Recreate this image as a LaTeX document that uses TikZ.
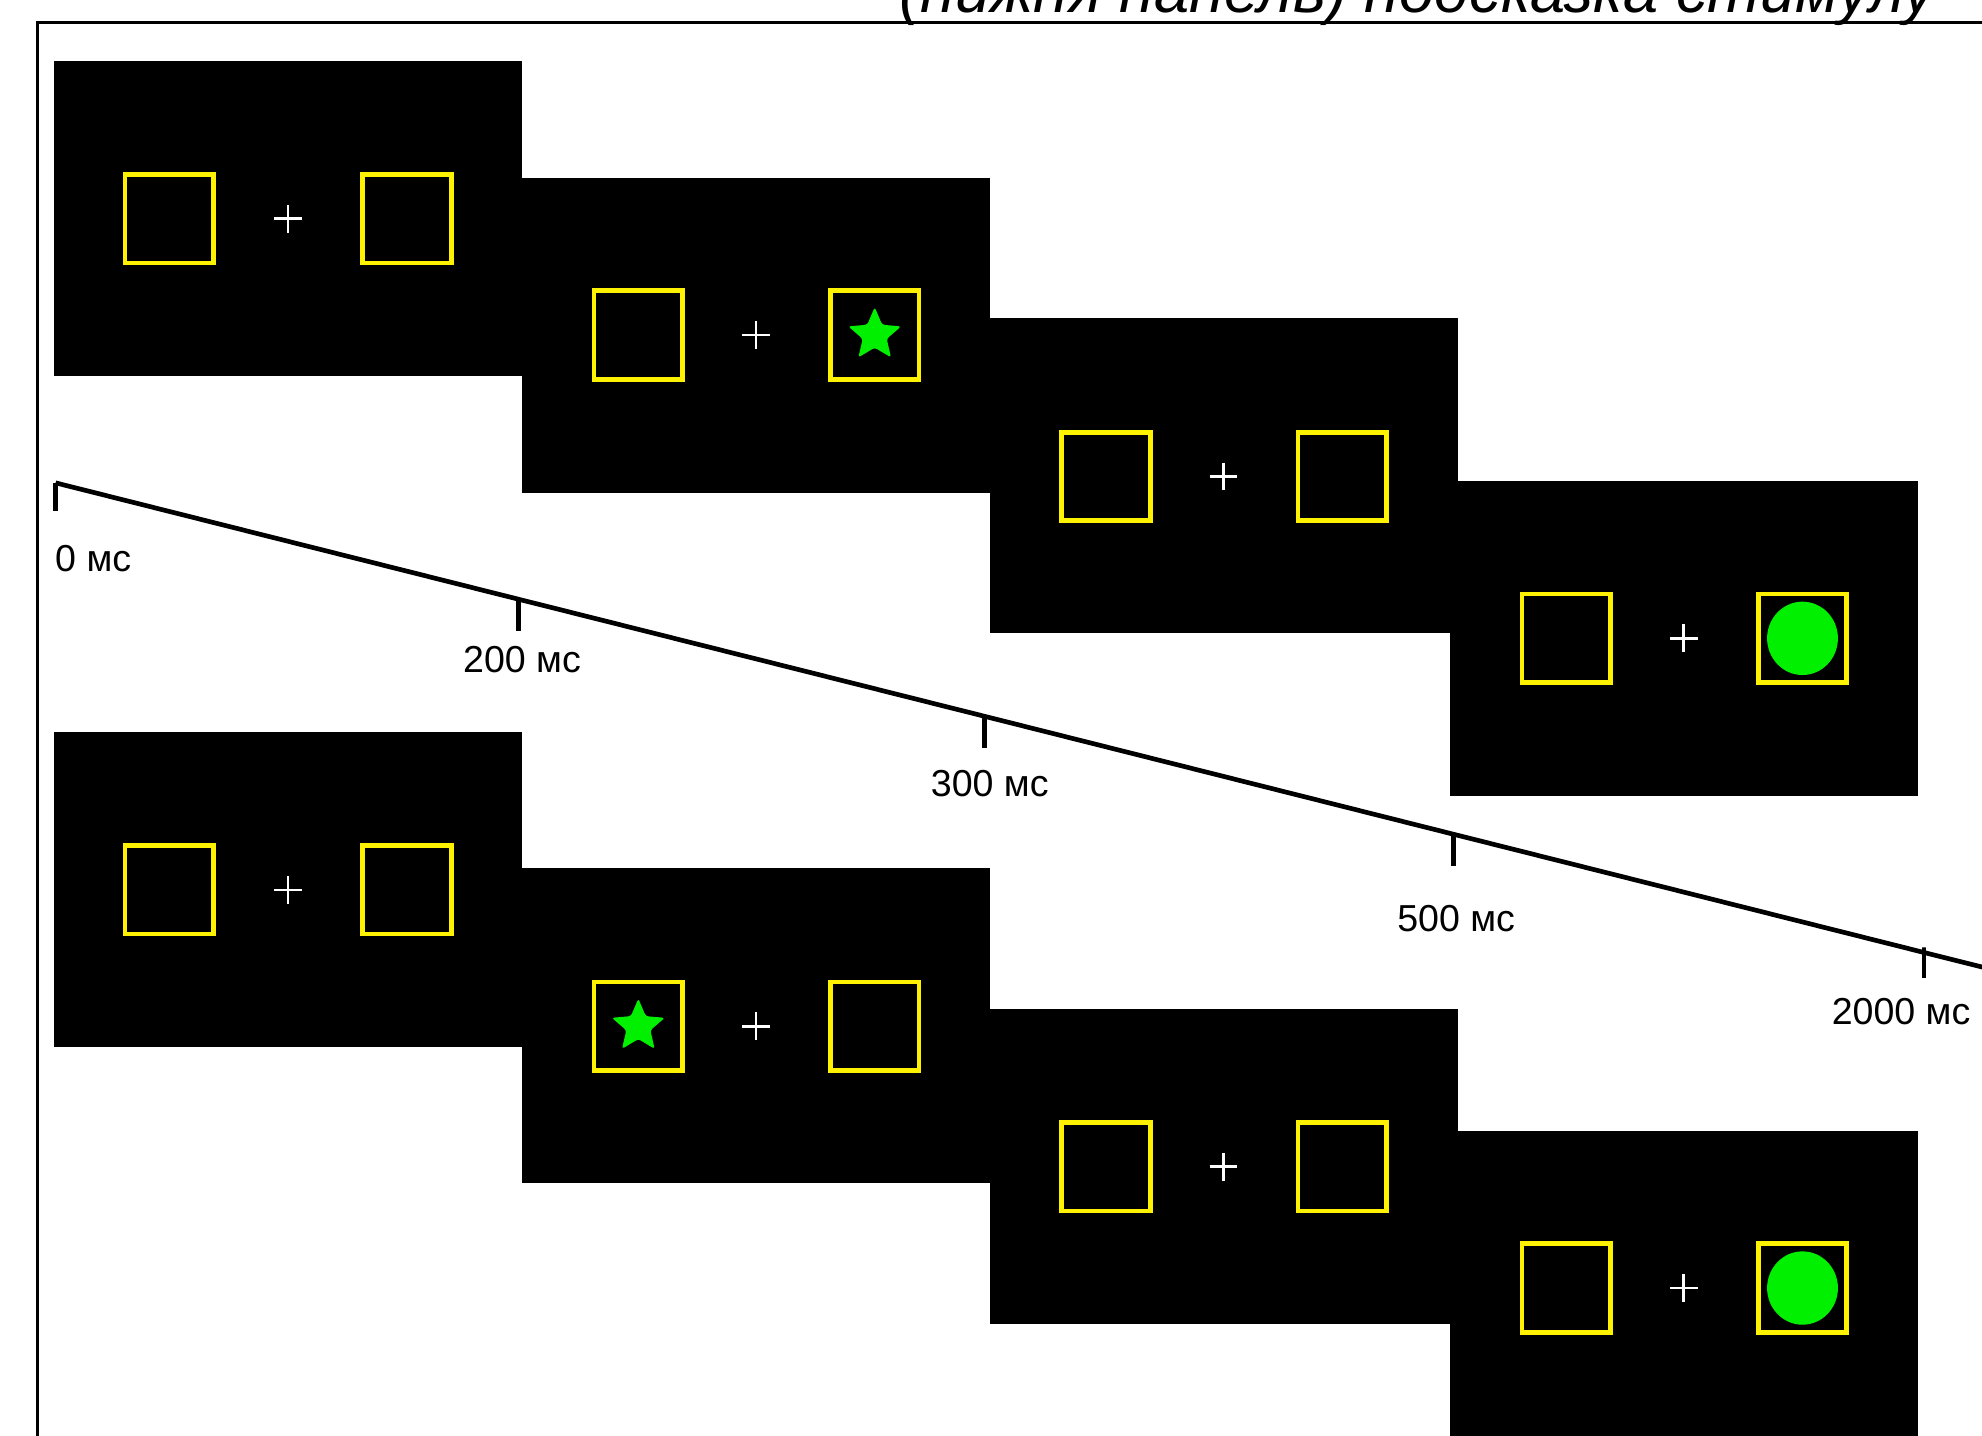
\documentclass[tikz,border=0pt]{standalone}
\usepackage{fontspec}
\setmainfont{Liberation Sans}
\usetikzlibrary{shapes.geometric}
\definecolor{cueyellow}{RGB}{255,242,0}
\definecolor{targetgreen}{RGB}{0,240,0}
\tikzset{
	panel/.style={fill=black, draw=none, minimum width=3.7cm, minimum height=2.49cm, inner sep=0pt},
	cue/.style={draw=cueyellow, line width=1.05pt, minimum size=0.7cm, inner sep=0pt},
	fixcross/.style={draw=white, line width=0.55pt},
	starget/.style={star, star points=5, star point ratio=2.2, minimum size=0.44cm, inner sep=0pt, fill=targetgreen, rounded corners=0.6pt},
	ctarget/.style={ellipse, minimum width=0.56cm, minimum height=0.58cm, inner sep=0pt, fill=targetgreen},
	timelbl/.style={font=\fontsize{8.45}{10}\selectfont, inner sep=0pt},
	tline/.style={line width=1.05pt}
}
\begin{document}
\begin{tikzpicture}[x=0.01cm, y=-0.01cm]
	\useasboundingbox (0,0) rectangle (1568,1136);
	\clip (0,0) rectangle (1568,1136);

	\node[anchor=base east, inner sep=0pt, font=\fontsize{14.2}{17}\selectfont\itshape] (title) at (1532,10) {(нижня панель) подсказка стимулу};
	\draw[line width=0.7pt] (30,1200) -- (30,18) -- (1600,18);

	\node[panel] (p1) at (228,172.5) {};
	\node[panel] (p2) at (598,265.5) {};
	\node[panel] (p3) at (968.5,376.5) {};
	\node[panel] (p4) at (1332.5,505) {};
	\node[panel] (p5) at (228,703.5) {};
	\node[panel] (p6) at (598,811.5) {};
	\node[panel] (p7) at (968.5,922.5) {};
	\node[panel] (p8) at (1332.5,1019) {};

	\node[cue] (p1a) at (134,173) {};
	\node[cue] (p1b) at (322,173) {};
	\draw[fixcross] (217,173) -- (239,173) (228,162) -- (228,184);

	\node[cue] (p2a) at (505,265) {};
	\node[cue] (p2b) at (692,265) {};
	\draw[fixcross] (587,265) -- (609,265) (598,254) -- (598,276);
	\node[starget] (star1) at (p2b) {};

	\node[cue] (p3a) at (875,377) {};
	\node[cue] (p3b) at (1062,377) {};
	\draw[fixcross] (957,377) -- (979,377) (968,366) -- (968,388);

	\node[cue] (p4a) at (1239,505) {};
	\node[cue] (p4b) at (1426,505) {};
	\draw[fixcross] (1321,505) -- (1343,505) (1332,494) -- (1332,516);
	\node[ctarget] (dot1) at (p4b) {};

	\node[cue] (p5a) at (134,704) {};
	\node[cue] (p5b) at (322,704) {};
	\draw[fixcross] (217,704) -- (239,704) (228,693) -- (228,715);

	\node[cue] (p6a) at (505,812) {};
	\node[cue] (p6b) at (692,812) {};
	\draw[fixcross] (587,812) -- (609,812) (598,801) -- (598,823);
	\node[starget] (star2) at (p6a) {};

	\node[cue] (p7a) at (875,923) {};
	\node[cue] (p7b) at (1062,923) {};
	\draw[fixcross] (957,923) -- (979,923) (968,912) -- (968,934);

	\node[cue] (p8a) at (1239,1019) {};
	\node[cue] (p8b) at (1426,1019) {};
	\draw[fixcross] (1321,1019) -- (1343,1019) (1332,1008) -- (1332,1030);
	\node[ctarget] (dot2) at (p8b) {};

	\coordinate (t0) at (44,382);
	\coordinate (t200) at (410,474);
	\coordinate (t300) at (779,566.7);
	\coordinate (t500) at (1150,660);
	\coordinate (t2000) at (1522,753.5);
	\coordinate (tend) at (1600,773);
	\draw[tline] (t0) -- (t200) -- (t300) -- (t500) -- (t2000) -- (tend);
	\draw[tline] (t0) -- ++(0,22);
	\draw[tline] (t200) -- ++(0,25);
	\draw[tline] (t300) -- ++(0,25);
	\draw[tline] (t500) -- ++(0,25);
	\draw[tline] (t2000) -- ++(0,-4) -- ++(0,24);

	\node[timelbl, anchor=west] (l0) at (43,442) {0 мс};
	\node[timelbl] (l200) at (413,522) {200 мс};
	\node[timelbl] (l300) at (783,620) {300 мс};
	\node[timelbl] (l500) at (1152,727) {500 мс};
	\node[timelbl] (l2000) at (1504,800) {2000 мс};
\end{tikzpicture}
\end{document}
